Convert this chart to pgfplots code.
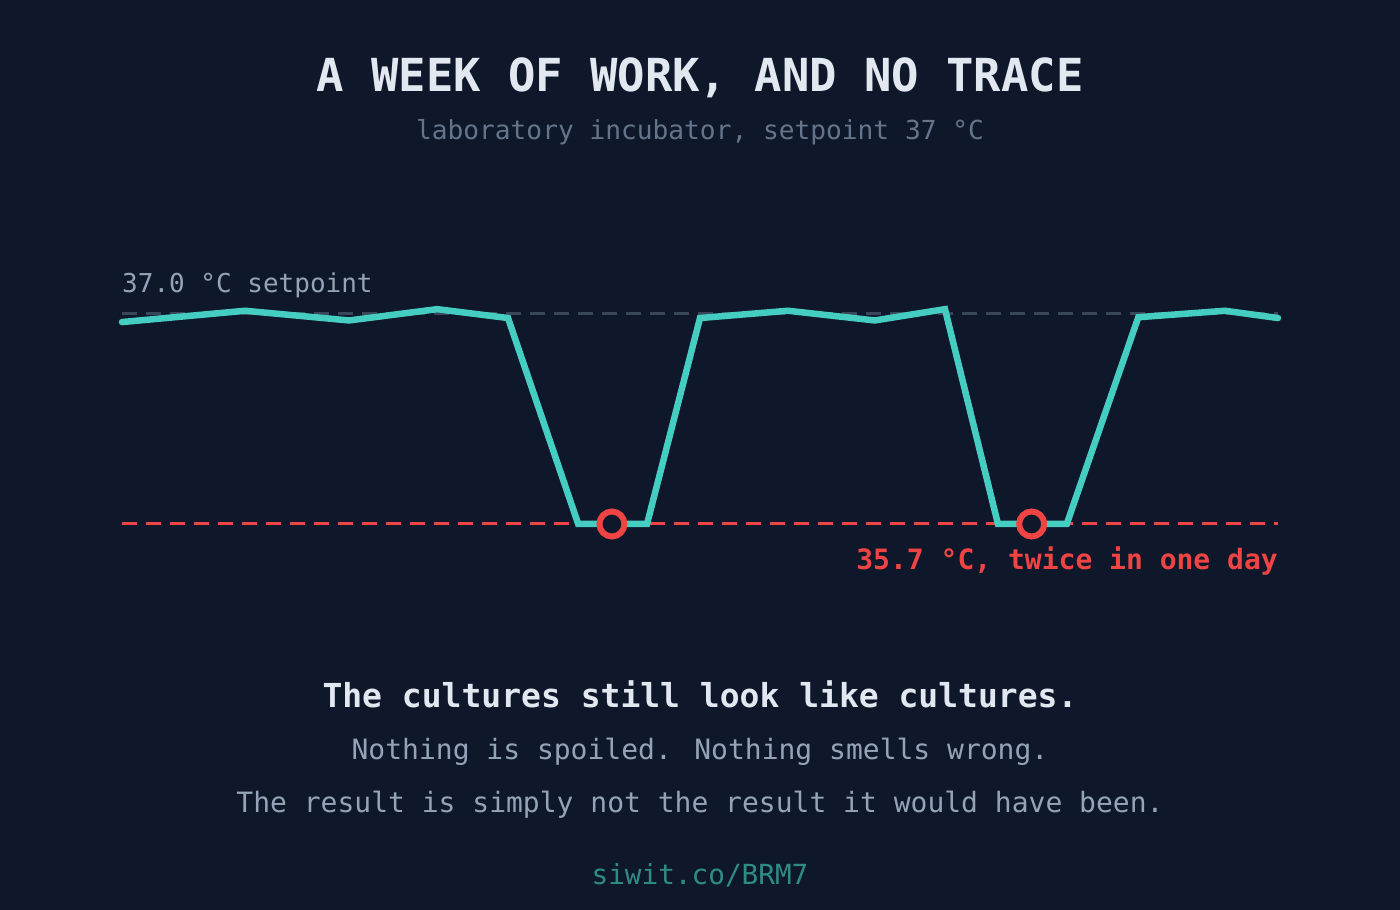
\documentclass[border=0pt]{standalone}
\usepackage{pgfplots}
\pgfplotsset{compat=1.18}
\usepackage{fontspec}
\setmainfont{DejaVu Sans Mono}

\definecolor{bg}{HTML}{0F172A}
\definecolor{titlec}{HTML}{E2E8F0}
\definecolor{subc}{HTML}{64748B}
\definecolor{bodyc}{HTML}{94A3B8}
\definecolor{teal}{HTML}{45CDC1}
\definecolor{linkc}{HTML}{2E8C87}
\definecolor{alarm}{HTML}{EF4444}
\definecolor{setc}{HTML}{3A475A}

\newcommand{\fs}[1]{\fontsize{#1}{#1}\selectfont}

\begin{document}
\begin{tikzpicture}[x=1pt,y=1pt,every node/.style={inner sep=0pt}]
\fill[bg] (0,0) rectangle (1400,910);

% titles
\node[anchor=base,text=titlec,font=\fs{45.5}\bfseries] at (700,818) {A WEEK OF WORK, AND NO TRACE};
\node[anchor=base,text=subc,font=\fs{26.2}] at (700,770) {laboratory incubator, setpoint 37 °C};

\begin{axis}[
  at={(122pt,386pt)}, anchor=south west,
  scale only axis, width=1156pt, height=210pt,
  xmin=0, xmax=168, ymin=35.7, ymax=37.0,
  hide axis, clip=false,
]
% setpoint and low reference
\addplot[setc, line width=3pt, dash pattern=on 15pt off 9pt] coordinates {(0,37.0)(168,37.0)};
\addplot[alarm, line width=3pt, dash pattern=on 15pt off 9pt] coordinates {(0,35.7)(168,35.7)};
% incubator temperature
\addplot[teal, line width=6.5pt, line join=miter, line cap=round] coordinates {
  (0,36.95) (17.9,37.02) (33.0,36.96) (45.8,37.03) (56.1,36.975)
  (66.3,35.7) (76.3,35.7) (84.0,36.975) (96.8,37.02) (109.4,36.96)
  (119.6,37.03) (127.3,35.7) (137.3,35.7) (147.7,36.98) (160.3,37.02)
  (168,36.975)
};
% the two lows
\addplot[only marks, mark=*, mark size=12.5pt, mark options={draw=alarm, fill=bg, line width=6pt}]
  coordinates {(71.2,35.7) (132.2,35.7)};
\end{axis}

\node[anchor=base west,text=bodyc,font=\fs{26}] at (122,617) {37.0 °C setpoint};
\node[anchor=base east,text=alarm,font=\fs{28}\bfseries] at (1278,340) {35.7 °C, twice in one day};

% closing text
\node[anchor=base,text=titlec,font=\fs{33}\bfseries] at (700,202) {The cultures still look like cultures.};
\node[anchor=base,text=bodyc,font=\fs{28}] at (700,150) {Nothing is spoiled. Nothing smells wrong.};
\node[anchor=base,text=bodyc,font=\fs{28}] at (700,97.5) {The result is simply not the result it would have been.};
\node[anchor=base,text=linkc,font=\fs{27.7}] at (700,25) {siwit.co/BRM7};
\end{tikzpicture}
\end{document}
